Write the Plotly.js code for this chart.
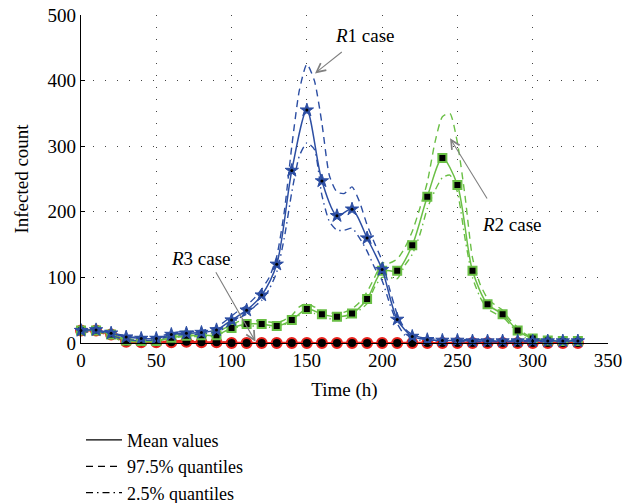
<!DOCTYPE html>
<html>
<head>
<meta charset="utf-8">
<script src="https://cdn.plot.ly/plotly-3.0.1.min.js"></script>
<style>
  html, body { margin: 0; padding: 0; background: #fff; }
  #chart { width: 634px; height: 503px; }
</style>
</head>
<body>
<div id="chart"></div>
<script>
// Sampling times of the mean curves (h)
const timeMean = [0,10,20,30,40,50,60,70,80,90,100,110,120,130,140,150,160,170,180,190,200,210,220,230,240,250,260,270,280,290,300,310,320,330];

// Sampling times of the quantile curves (h)
const timeQuant = [0,5,10,15,20,25,30,35,40,45,50,55,60,65,70,75,80,85,90,95,100,105,110,115,120,125,130,135,140,145,150,155,160,165,170,175,180,185,190,195,200,205,210,215,220,225,230,235,240,245,250,255,260,265,270,275,280,285,290,295,300,305,310,315,320,325,330];

// R1 case (blue)
const r1Mean = [19,20,15,9,7,7,13,15,16,20,35,50,73,120,263,355,247,194,204,160,112,36,10,5,4,4,3,3,3,3,3,3,3,3];
const r1Upper = [21,21,22,20,17,13,11,9,9,9,9,12,15,17,17,18,19,21,24,32,41,50,57,68,82,100,132,200,300,385,425,400,335,255,230,228,238,215,180,152,125,82,44,22,13,9,7,6,5,5,5,5,5,5,4,4,4,4,4,4,4,4,4,4,4,4,4];
const r1Lower = [17,17,18,16,12,8,6,4,4,4,5,8,10,12,13,13,14,15,17,22,30,38,44,55,65,82,108,160,230,285,305,295,225,185,172,172,175,160,140,115,95,60,30,12,7,4,3,3,3,2,2,2,2,2,2,2,2,2,2,2,2,2,2,2,2,2,2];

// R2 case (green)
const r2Mean = [19,19,13,4,3,3,8,11,12,12,23,29,29,26,35,52,44,40,45,67,110,110,149,223,282,241,110,59,44,19,7,4,3,3];
const r2Upper = [21,21,21,18,15,9,6,5,5,5,6,9,11,13,14,14,15,15,16,22,28,33,34,34,34,32,31,35,42,55,60,55,49,46,45,47,52,62,78,100,122,122,128,145,170,205,245,305,345,350,305,225,130,90,68,58,50,35,24,14,8,6,5,5,4,4,4];
const r2Lower = [17,17,17,15,11,5,3,2,2,2,2,6,7,9,10,10,10,10,10,17,20,25,26,26,26,24,23,28,32,42,47,45,40,37,36,37,40,50,60,85,100,100,98,118,135,165,205,232,252,256,230,160,100,70,52,45,40,28,16,8,5,3,3,3,2,2,2];

// R3 case (red)
const r3Mean = [19,19,13,2,1,1,1,2,1,1,0,0,0,0,0,0,0,0,0,0,0,0,0,0,0,0,0,0,0,0,0,0,0,0];
const r3Upper = [21,21,15,4,2,2,3,4,3,2,1,1,1,1,1,1,1,1,1,1,1,1,1,1,1,1,1,1,1,1,1,1,1,1];
const r3Lower = [17,17,11,1,0,0,0,0,0,0,0,0,0,0,0,0,0,0,0,0,0,0,0,0,0,0,0,0,0,0,0,0,0,0];

// Axis ticks
const xTicks = [0,50,100,150,200,250,300,350];
const yTicks = [0,100,200,300,400,500];

// Legend entries
const legendNames = ['Mean values', '97.5% quantiles', '2.5% quantiles'];

const BLUE = '#2c4ea3';
const GREEN = '#6abf45';
const RED = '#e8231d';
const DASH = '7px,5px';
const DASHDOT = '7px,4px,1.5px,4px';
const SERIF = 'Liberation Serif, DejaVu Serif, serif';

function quantile(x, y, color, dash) {
  return {
    x: x, y: y, type: 'scatter', mode: 'lines', showlegend: false, hoverinfo: 'skip',
    line: {color: color, width: 1.4, dash: dash, shape: 'spline', smoothing: 0.6},
    cliponaxis: false
  };
}

function meanTrace(y, color, symbol, size, fill, outlineW, lineW) {
  return {
    x: timeMean, y: y, type: 'scatter', mode: 'lines+markers', showlegend: false,
    line: {color: color, width: lineW, shape: 'spline', smoothing: 0.8},
    marker: {symbol: symbol, size: size, color: fill, line: {color: color, width: outlineW}},
    cliponaxis: false
  };
}

const traces = [
  // R3 (bottom layer)
  quantile(timeMean, r3Upper, RED, DASH),
  quantile(timeMean, r3Lower, RED, DASHDOT),
  meanTrace(r3Mean, RED, 'circle', 10, '#000', 2, 2.2),
  // R2
  quantile(timeQuant, r2Upper, GREEN, DASH),
  quantile(timeQuant, r2Lower, GREEN, DASHDOT),
  meanTrace(r2Mean, GREEN, 'square', 8, '#000', 2, 1.5),
  // R1 (top layer)
  quantile(timeQuant, r1Upper, BLUE, DASH),
  quantile(timeQuant, r1Lower, BLUE, DASHDOT),
  meanTrace(r1Mean, BLUE, 'star', 10, BLUE, 1, 1.5),
  {
    x: timeMean, y: r1Mean, type: 'scatter', mode: 'markers', showlegend: false,
    hoverinfo: 'skip', marker: {symbol: 'circle', size: 3, color: '#000'}, cliponaxis: false
  }
];

// Legend-only line samples in black
['solid', DASH, DASHDOT].forEach(function (d, i) {
  traces.push({
    x: [null], y: [null], type: 'scatter', mode: 'lines', name: legendNames[i],
    line: {color: '#000', width: 1.3, dash: d}
  });
});

function axis(range, ticks, titleText, standoff) {
  return {
    range: range, tickmode: 'array', tickvals: ticks, ticktext: ticks.map(String),
    showgrid: true, gridcolor: '#444', gridwidth: 1, griddash: '1px,11px',
    showline: true, linecolor: '#000', linewidth: 1.2,
    ticks: 'inside', ticklen: 4, tickcolor: '#000', tickwidth: 1,
    zeroline: false,
    tickfont: {family: SERIF, size: 19, color: '#000'},
    title: {text: titleText, font: {family: SERIF, size: 19, color: '#000'}, standoff: standoff}
  };
}

const layout = {
  width: 634, height: 503,
  margin: {l: 81, r: 26, t: 15, b: 160, autoexpand: false},
  paper_bgcolor: '#fff', plot_bgcolor: '#fff',
  font: {family: SERIF, size: 18, color: '#000'},
  xaxis: axis([0, 350], xTicks, 'Time (h)', 12),
  yaxis: axis([0, 500], yTicks, 'Infected count', 13),
  showlegend: true,
  legend: {
    x: 0, xanchor: 'left', y: -0.24, yanchor: 'top',
    font: {family: SERIF, size: 18, color: '#000'},
    bgcolor: 'rgba(0,0,0,0)', tracegroupgap: 0, itemwidth: 36
  },
  annotations: [
    {xref: 'x', yref: 'y', axref: 'x', ayref: 'y', x: 155.4, y: 411, ax: 174.2, ay: 445.4,
     text: '', showarrow: true, arrowhead: 5, arrowsize: 1.6, arrowwidth: 1.1, arrowcolor: '#808080'},
    {xref: 'x', yref: 'y', x: 188.6, y: 469.4, text: '<i>R</i>1 case', showarrow: false,
     font: {family: SERIF, size: 19, color: '#000'}},
    {xref: 'x', yref: 'y', axref: 'x', ayref: 'y', x: 245.1, y: 312, ax: 270.3, ay: 218,
     text: '', showarrow: true, arrowhead: 5, arrowsize: 1.6, arrowwidth: 1.1, arrowcolor: '#808080'},
    {xref: 'x', yref: 'y', x: 286.2, y: 181.4, text: '<i>R</i>2 case', showarrow: false,
     font: {family: SERIF, size: 19, color: '#000'}},
    {xref: 'x', yref: 'y', axref: 'x', ayref: 'y', x: 115.9, y: 2, ax: 89, ay: 110,
     text: '', showarrow: true, arrowhead: 5, arrowsize: 1.6, arrowwidth: 1.1, arrowcolor: '#808080'},
    {xref: 'x', yref: 'y', x: 79.7, y: 129.5, text: '<i>R</i>3 case', showarrow: false,
     font: {family: SERIF, size: 19, color: '#000'}}
  ]
};

Plotly.newPlot('chart', traces, layout, {displayModeBar: false, staticPlot: true});
</script>
</body>
</html>
